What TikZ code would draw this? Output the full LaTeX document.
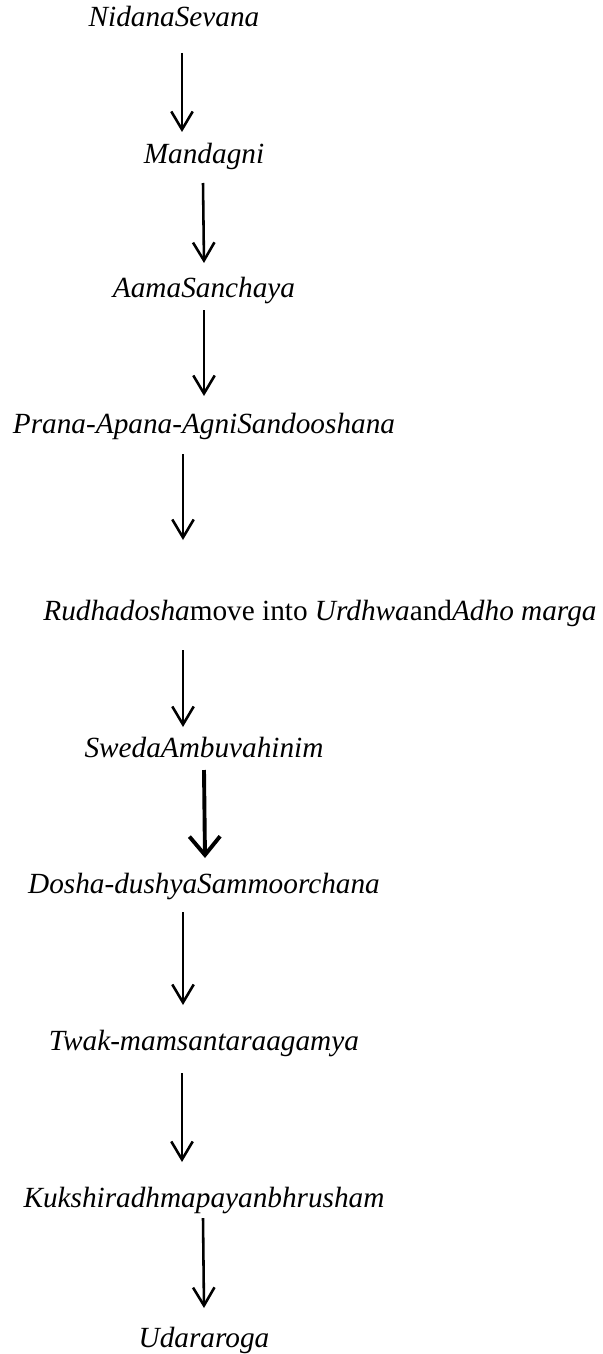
\documentclass[tikz,border=0pt]{standalone}
\usepackage{fontspec}
\setmainfont{Liberation Serif}
\usetikzlibrary{arrows.meta}

\begin{document}
\begin{tikzpicture}[x=0.41pt, y=-0.41pt,
  lbl/.style={anchor=base, inner sep=0pt, outer sep=0pt, font=\fontsize{12}{14}\selectfont\itshape},
  flow/.style={line width=1.05pt, -{Straight Barb[length=7.4pt, width=8.8pt]}},
  heavyflow/.style={line width=1.6pt, -{Straight Barb[length=7.6pt, width=12.6pt]}}]
  \useasboundingbox (0, 0) rectangle (602, 1354);
  \def\cx{204}
  \node [lbl] (nidana)  at (174, 27)    {NidanaSevana};
  \node [lbl] (mandagni) at (\cx, 163)  {Mandagni};
  \node [lbl] (aama)    at (\cx, 297)   {AamaSanchaya};
  \node [lbl] (prana)   at (\cx, 433)   {Prana-Apana-AgniSandooshana};
  \node [lbl] (rudha)   at (320, 620)   {Rudhadosha\textup{move into} Urdhwa\textup{and}Adho marga};
  \node [lbl] (sweda)   at (\cx, 757)   {SwedaAmbuvahinim};
  \node [lbl] (dosha)   at (\cx, 893)   {Dosha-dushyaSammoorchana};
  \node [lbl] (twak)    at (\cx, 1050)  {Twak-mamsantaraagamya};
  \node [lbl] (kukshi)  at (\cx, 1207)  {Kukshiradhmapayanbhrusham};
  \node [lbl] (udara)   at (\cx, 1347)  {Udararoga};
  \coordinate (t1) at (182, 53);   \coordinate (h1) at (182, 132);
  \coordinate (t2) at (203, 183);  \coordinate (h2) at (204, 263);
  \coordinate (t3) at (204, 310);  \coordinate (h3) at (204, 396);
  \coordinate (t4) at (183, 454);  \coordinate (h4) at (183, 540);
  \coordinate (t5) at (183, 650);  \coordinate (h5) at (183, 727);
  \coordinate (t6) at (204, 770);  \coordinate (h6) at (205, 858);
  \coordinate (t7) at (183, 912);  \coordinate (h7) at (183, 1005);
  \coordinate (t8) at (182, 1073); \coordinate (h8) at (182, 1162);
  \coordinate (t9) at (203, 1218); \coordinate (h9) at (204, 1308);
  \draw [flow] (t1) -- (h1);
  \draw [flow] (t2) -- (h2);
  \draw [flow] (t3) -- (h3);
  \draw [flow] (t4) -- (h4);
  \draw [flow] (t5) -- (h5);
  \draw [heavyflow] (t6) -- (h6);
  \draw [flow] (t7) -- (h7);
  \draw [flow] (t8) -- (h8);
  \draw [flow] (t9) -- (h9);
\end{tikzpicture}
\end{document}
